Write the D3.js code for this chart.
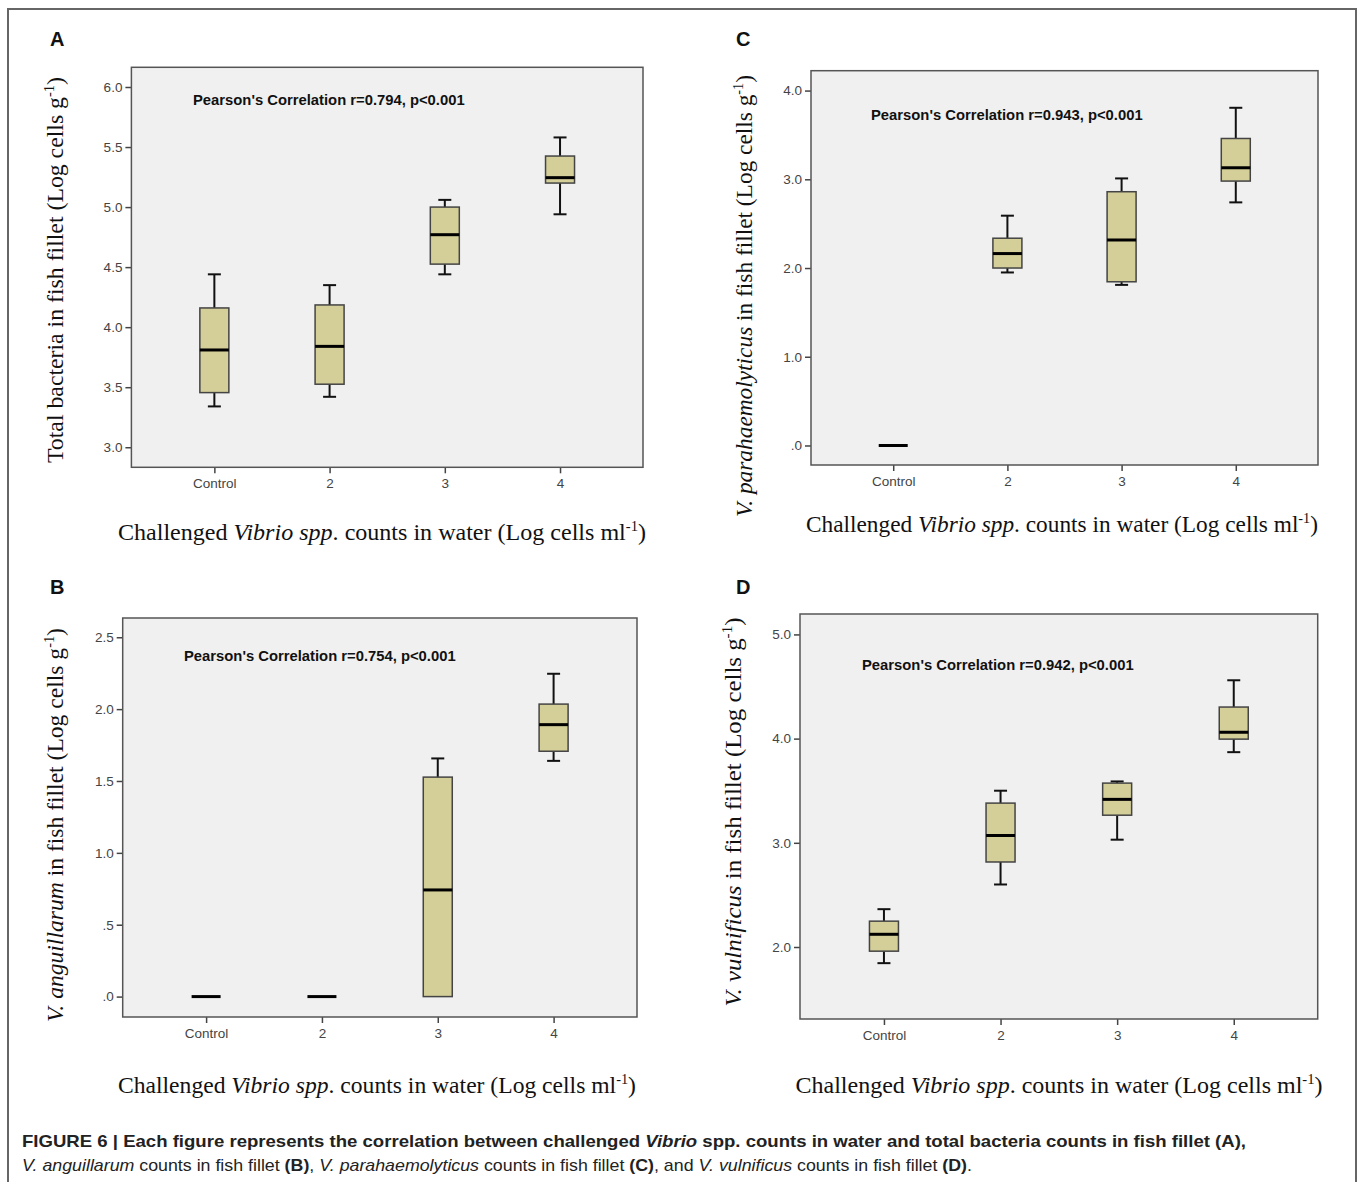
<!DOCTYPE html>
<html><head><meta charset="utf-8">
<script src="https://cdn.jsdelivr.net/npm/d3@7"></script>
<style>
html,body{margin:0;padding:0;background:#fff;}
svg{display:block;}
</style></head>
<body>
<svg id="fig" width="1358" height="1182"></svg>
<script>
const categories = ["Control", "2", "3", "4"];

// Panel A: Total bacteria
const minA = [3.34, 3.42, 4.44, 4.94];
const q1A  = [3.455, 3.525, 4.525, 5.20];
const medA = [3.81, 3.84, 4.77, 5.245];
const q3A  = [4.16, 4.185, 5.00, 5.425];
const maxA = [4.44, 4.35, 5.06, 5.58];
const ticksA = [3.0, 3.5, 4.0, 4.5, 5.0, 5.5, 6.0];

// Panel B: V. anguillarum
const minB = [0, 0, 0, 1.64];
const q1B  = [0, 0, 0, 1.707];
const medB = [0, 0, 0.742, 1.892];
const q3B  = [0, 0, 1.527, 2.035];
const maxB = [0, 0, 1.657, 2.246];
const ticksB = [0, 0.5, 1.0, 1.5, 2.0, 2.5];

// Panel C: V. parahaemolyticus
const minC = [0, 1.95, 1.81, 2.74];
const q1C  = [0, 2.00, 1.845, 2.98];
const medC = [0, 2.163, 2.316, 3.13];
const q3C  = [0, 2.336, 2.86, 3.46];
const maxC = [0, 2.59, 3.01, 3.806];
const ticksC = [0, 1.0, 2.0, 3.0, 4.0];

// Panel D: V. vulnificus
const minD = [1.845, 2.60, 3.03, 3.87];
const q1D  = [1.96, 2.816, 3.265, 3.995];
const medD = [2.122, 3.07, 3.417, 4.061];
const q3D  = [2.248, 3.381, 3.573, 4.303];
const maxD = [2.363, 3.50, 3.589, 4.56];
const ticksD = [2.0, 3.0, 4.0, 5.0];

const pearsonTexts = ["Pearson's Correlation r=0.794, p<0.001",
                      "Pearson's Correlation r=0.754, p<0.001",
                      "Pearson's Correlation r=0.943, p<0.001",
                      "Pearson's Correlation r=0.942, p<0.001"];

const svg = d3.select("#fig");
const SERIF = "'Liberation Serif','Times New Roman',Times,serif";
const SANS = "'Liberation Sans',Arial,Helvetica,sans-serif";

// outer border
svg.append("rect").attr("x", 8).attr("y", 9).attr("width", 1348).attr("height", 1200)
  .attr("fill", "none").attr("stroke", "#666").attr("stroke-width", 2);

const fmt = v => { const s = d3.format(".1f")(v); return v < 1 ? s.replace(/^0/, "") : s; };

const panels = [
  {label: "A", min: minA, q1: q1A, med: medA, q3: q3A, max: maxA, ticks: ticksA, dom: [2.833, 6.164],
   fx: 131.4, fy: 67.3, fw: 511.6, fh: 400, pear: pearsonTexts[0], px: 193, py: 105,
   lx: 50, ly: 46, ytx: 63, yty: 270, ytitle: [["Total bacteria in fish  fillet (Log cells g", ""]], xtitleX: 382, xtitleY: 540, xtW: 528, ytW: 386},
  {label: "B", min: minB, q1: q1B, med: medB, q3: q3B, max: maxB, ticks: ticksB, dom: [-0.142, 2.634],
   fx: 122.7, fy: 618, fw: 514.3, fh: 399, pear: pearsonTexts[1], px: 184, py: 661,
   lx: 50, ly: 594, ytx: 63, yty: 825, ytitle: [["V. anguillarum", "i"], [" in fish  fillet (Log cells g", ""]], xtitleX: 377, xtitleY: 1093, xtW: 518, ytW: 394},
  {label: "C", min: minC, q1: q1C, med: medC, q3: q3C, max: maxC, ticks: ticksC, dom: [-0.22, 4.224],
   fx: 811, fy: 70.7, fw: 507, fh: 394.3, pear: pearsonTexts[2], px: 871, py: 120,
   lx: 736, ly: 46, ytx: 752, yty: 296, ytitle: [["V. parahaemolyticus", "i"], [" in fish fillet (Log cells g", ""]], xtitleX: 1062, xtitleY: 532, xtW: 512, ytW: 442},
  {label: "D", min: minD, q1: q1D, med: medD, q3: q3D, max: maxD, ticks: ticksD, dom: [1.309, 5.196],
   fx: 800, fy: 614, fw: 517.7, fh: 405, pear: pearsonTexts[3], px: 862, py: 670,
   lx: 736, ly: 594, ytx: 741, yty: 812, ytitle: [["V. vulnificus", "i"], [" in fish  fillet (Log cells g", ""]], xtitleX: 1059, xtitleY: 1093, xtW: 527, ytW: 389}
];

const BOXW = 29, CAPW = 13;

panels.forEach(p => {
  const g = svg.append("g");
  const x = d3.scalePoint().domain(categories).range([p.fx, p.fx + p.fw]).padding(0.72);
  const y = d3.scaleLinear().domain(p.dom).range([p.fy + p.fh, p.fy]);

  // panel label
  g.append("text").attr("x", p.lx).attr("y", p.ly).text(p.label)
    .attr("font-family", SANS).attr("font-weight", "bold").attr("font-size", 20).attr("fill", "#111");

  // plot background
  g.append("rect").attr("x", p.fx).attr("y", p.fy).attr("width", p.fw).attr("height", p.fh)
    .attr("fill", "#f0f0f0");

  // axes
  const ya = g.append("g").attr("transform", `translate(${p.fx},0)`)
    .call(d3.axisLeft(y).tickValues(p.ticks).tickFormat(fmt).tickSize(6).tickPadding(3));
  const xa = g.append("g").attr("transform", `translate(0,${p.fy + p.fh})`)
    .call(d3.axisBottom(x).tickSize(6).tickPadding(5));
  [ya, xa].forEach(a => {
    a.select(".domain").remove();
    a.selectAll(".tick line").attr("stroke", "#444").attr("stroke-width", 1.5);
    a.selectAll(".tick text").attr("fill", "#444").attr("font-family", SANS).attr("font-size", 13.5);
  });

  // Pearson text
  g.append("text").attr("x", p.px).attr("y", p.py).text(p.pear)
    .attr("font-family", SANS).attr("font-weight", "bold").attr("font-size", 14.8).attr("fill", "#111");

  // boxes
  categories.forEach((c, i) => {
    const cx = x(c);
    const mn = p.min[i], a = p.q1[i], m = p.med[i], b = p.q3[i], mx = p.max[i];
    if (b > a) {
      if (mx > b) {
        g.append("line").attr("x1", cx).attr("x2", cx).attr("y1", y(mx)).attr("y2", y(b))
          .attr("stroke", "#111").attr("stroke-width", 2);
        g.append("line").attr("x1", cx - CAPW / 2).attr("x2", cx + CAPW / 2).attr("y1", y(mx)).attr("y2", y(mx))
          .attr("stroke", "#111").attr("stroke-width", 2);
      }
      if (mn < a) {
        g.append("line").attr("x1", cx).attr("x2", cx).attr("y1", y(a)).attr("y2", y(mn))
          .attr("stroke", "#111").attr("stroke-width", 2);
        g.append("line").attr("x1", cx - CAPW / 2).attr("x2", cx + CAPW / 2).attr("y1", y(mn)).attr("y2", y(mn))
          .attr("stroke", "#111").attr("stroke-width", 2);
      }
      g.append("rect").attr("x", cx - BOXW / 2).attr("y", y(b)).attr("width", BOXW).attr("height", y(a) - y(b))
        .attr("fill", "#d4ce98").attr("stroke", "#444").attr("stroke-width", 1.5);
    }
    g.append("line").attr("x1", cx - BOXW / 2).attr("x2", cx + BOXW / 2).attr("y1", y(m)).attr("y2", y(m))
      .attr("stroke", "#000").attr("stroke-width", 3);
  });

  // frame
  g.append("rect").attr("x", p.fx).attr("y", p.fy).attr("width", p.fw).attr("height", p.fh)
    .attr("fill", "none").attr("stroke", "#555").attr("stroke-width", 1.5);

  // x title
  const xt = g.append("text").attr("x", p.xtitleX).attr("y", p.xtitleY)
    .attr("text-anchor", "middle").attr("font-family", SERIF).attr("font-size", 23).attr("fill", "#111")
    .attr("textLength", p.xtW).attr("lengthAdjust", "spacingAndGlyphs");
  xt.append("tspan").text("Challenged ");
  xt.append("tspan").attr("font-style", "italic").text("Vibrio spp");
  xt.append("tspan").text(". counts in water (Log cells ml");
  xt.append("tspan").attr("font-size", 14).attr("dy", -9).text("-1");
  xt.append("tspan").attr("dy", 9).text(")");

  // y title
  const yt = g.append("text").attr("transform", `translate(${p.ytx},${p.yty}) rotate(-90)`)
    .attr("text-anchor", "middle").attr("font-family", SERIF).attr("font-size", 23).attr("fill", "#111")
    .attr("textLength", p.ytW).attr("lengthAdjust", "spacingAndGlyphs");
  p.ytitle.forEach(([t, st]) => {
    const s = yt.append("tspan").text(t);
    if (st === "i") s.attr("font-style", "italic");
  });
  yt.append("tspan").attr("font-size", 14).attr("dy", -9).text("-1");
  yt.append("tspan").attr("dy", 9).text(")");
});

// caption
const cap1 = svg.append("text").attr("x", 22).attr("y", 1147)
  .attr("font-family", SANS).attr("font-size", 17).attr("font-weight", "bold").attr("fill", "#222")
  .attr("textLength", 1224).attr("lengthAdjust", "spacingAndGlyphs");
cap1.append("tspan").text("FIGURE 6 | Each figure represents the correlation between challenged ");
cap1.append("tspan").attr("font-style", "italic").text("Vibrio");
cap1.append("tspan").text(" spp. counts in water and total bacteria counts in fish fillet (A),");

const cap2 = svg.append("text").attr("x", 22).attr("y", 1171)
  .attr("font-family", SANS).attr("font-size", 17).attr("fill", "#222")
  .attr("textLength", 950).attr("lengthAdjust", "spacingAndGlyphs");
[["V. anguillarum", "i"], [" counts in fish fillet ", ""], ["(B)", "b"], [", ", ""],
 ["V. parahaemolyticus", "i"], [" counts in fish fillet ", ""], ["(C)", "b"], [", and ", ""],
 ["V. vulnificus", "i"], [" counts in fish fillet ", ""], ["(D)", "b"], [".", ""]].forEach(([t, st]) => {
  const s = cap2.append("tspan").text(t);
  if (st === "i") s.attr("font-style", "italic");
  if (st === "b") s.attr("font-weight", "bold");
});
</script>
</body></html>
